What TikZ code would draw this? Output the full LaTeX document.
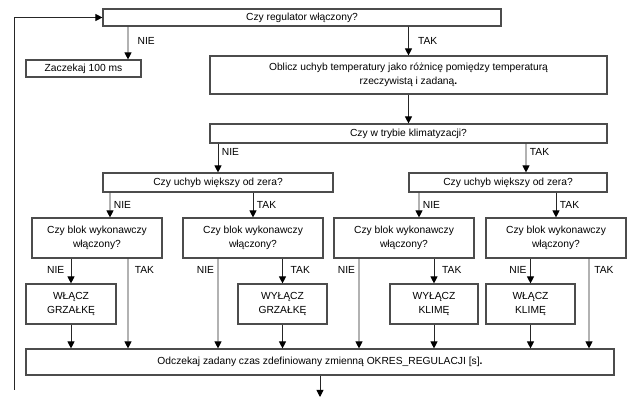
\documentclass[tikz,border=0pt]{standalone}
\usepackage{fontspec}
\setmainfont{Liberation Sans}
\usetikzlibrary{arrows.meta}

\begin{document}
\begin{tikzpicture}[
  box/.style={draw=black!70, line width=0.8pt, align=center, inner sep=2pt},
  arr/.style={draw=black!85, line width=0.65pt, -{Triangle[length=5pt,width=5pt,color=black]}},
  lab/.style={inner sep=2.5pt},
  every node/.style={font=\fontsize{7.3}{9.6}\selectfont}
]
\useasboundingbox (0,0) rectangle (16.1,-10);
\node[box, minimum width=9.95cm, minimum height=0.425cm] (reg) at (7.55,-0.4375) {Czy regulator włączony?};
\node[box, minimum width=2.875cm, minimum height=0.425cm] (wait) at (2.0875,-1.7125) {Zaczekaj 100 ms};
\node[box, minimum width=9.925cm, minimum height=0.95cm] (calc) at (10.2125,-1.875) {Oblicz uchyb temperatury jako różnicę pomiędzy temperaturą\\rzeczywistą i zadaną\textbf{.}};
\node[box, minimum width=9.925cm, minimum height=0.475cm] (mode) at (10.2125,-3.3375) {Czy w trybie klimatyzacji?};
\node[box, minimum width=5.75cm, minimum height=0.475cm] (errL) at (5.45,-4.5625) {Czy uchyb większy od zera?};
\node[box, minimum width=4.95cm, minimum height=0.475cm] (errR) at (12.7,-4.5625) {Czy uchyb większy od zera?};
\node[box, minimum width=3.25cm, minimum height=1cm] (b1) at (2.425,-5.95) {Czy blok wykonawczy\\włączony?};
\node[box, minimum width=3.5cm, minimum height=1cm] (b2) at (6.325,-5.95) {Czy blok wykonawczy\\włączony?};
\node[box, minimum width=3.5cm, minimum height=1cm] (b3) at (10.1,-5.95) {Czy blok wykonawczy\\włączony?};
\node[box, minimum width=3.5cm, minimum height=1cm] (b4) at (13.9,-5.95) {Czy blok wykonawczy\\włączony?};
\node[box, minimum width=2.25cm, minimum height=1cm] (hon) at (1.775,-7.6) {WŁĄCZ\\GRZAŁKĘ};
\node[box, minimum width=2.225cm, minimum height=1cm] (hoff) at (7.0625,-7.6) {WYŁĄCZ\\GRZAŁKĘ};
\node[box, minimum width=2.2cm, minimum height=1cm] (coff) at (10.85,-7.6) {WYŁĄCZ\\KLIMĘ};
\node[box, minimum width=2.225cm, minimum height=1cm] (con) at (13.2625,-7.6) {WŁĄCZ\\KLIMĘ};
\node[box, minimum width=14.7cm, minimum height=0.65cm] (next) at (8,-9.05) {Odczekaj zadany czas zdefiniowany zmienną OKRES\_REGULACJI [s]\textbf{.}};
\coordinate (end) at (8,-9.925);
\coordinate (loop) at (0.35,-9.75);
% first question
\draw[arr] ([xshift=-4.35cm]reg.south) -- node[lab, right, xshift=4pt, pos=0.45] {NIE} ([xshift=1.1125cm]wait.north);
\draw[arr] ([xshift=2.6625cm]reg.south) -- node[lab, right, xshift=4pt, pos=0.5] {TAK} (calc.north);
\draw[arr] (calc.south) -- (mode.north);
% mode
\draw[arr] (mode.south -| errL.north) -- node[lab, right, pos=0.3] {NIE} (errL.north);
\draw[arr] ([xshift=2.9375cm]mode.south) -- node[lab, right, pos=0.3] {TAK} ([xshift=0.45cm]errR.north);
% sign of error
\draw[arr] ([xshift=-2.7cm]errL.south) -- node[lab, right, pos=0.5] {NIE} ([xshift=0.325cm]b1.north);
\draw[arr] (errL.south -| b2.north) -- node[lab, right, pos=0.5] {TAK} (b2.north);
\draw[arr] ([xshift=-2.225cm]errR.south) -- node[lab, right, pos=0.5] {NIE} ([xshift=0.375cm]b3.north);
\draw[arr] (errR.south -| b4.north) -- node[lab, right, pos=0.5] {TAK} (b4.north);
% blocks
\draw[arr] (b1.south -| hon.north) -- node[lab, left, xshift=-2pt, pos=0.45] {NIE} (hon.north);
\draw[arr] ([xshift=0.775cm]b1.south) -- node[lab, right, xshift=2pt, pos=0.13] {TAK} ([xshift=-4.8cm]next.north);
\draw[arr] ([xshift=-0.875cm]b2.south) -- node[lab, left, pos=0.13] {NIE} ([xshift=-2.55cm]next.north);
\draw[arr] (b2.south -| hoff.north) -- node[lab, right, xshift=3pt, pos=0.45] {TAK} (hoff.north);
\draw[arr] ([xshift=-1.125cm]b3.south) -- node[lab, left, pos=0.13] {NIE} ([xshift=0.975cm]next.north);
\draw[arr] (b3.south -| coff.north) -- node[lab, right, xshift=3pt, pos=0.45] {TAK} (coff.north);
\draw[arr] (b4.south -| con.north) -- node[lab, left, pos=0.45] {NIE} (con.north);
\draw[arr] ([xshift=0.825cm]b4.south) -- node[lab, right, xshift=1pt, pos=0.13] {TAK} ([xshift=6.725cm]next.north);
\draw[arr] (hon.south) -- (hon.south |- next.north);
\draw[arr] (hoff.south) -- (hoff.south |- next.north);
\draw[arr] (coff.south) -- (coff.south |- next.north);
\draw[arr] (con.south) -- (con.south |- next.north);
% wait and loop back
\draw[arr] (next.south) -- (end);
\draw[arr] (loop) |- (reg.west);
\end{tikzpicture}
\end{document}
